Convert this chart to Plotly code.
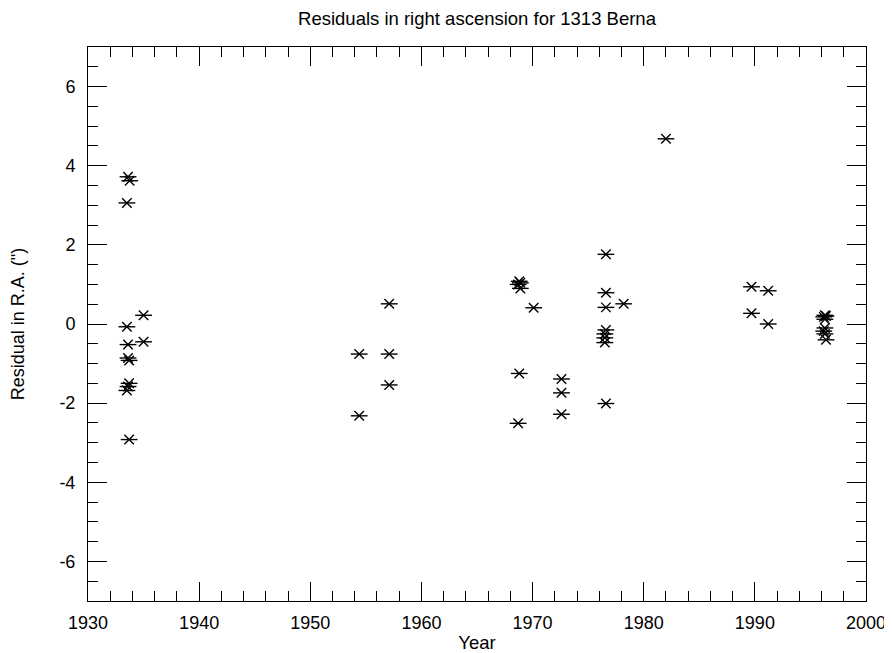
import plotly.graph_objects as go

# Observation epochs (years) and residuals in right ascension (arcsec)
years = [
    1933.6, 1933.75, 1933.5, 1933.5, 1933.6, 1933.6, 1933.7, 1933.7, 1933.6, 1933.5, 1933.7,
    1935.0, 1935.0,
    1954.4, 1954.4,
    1957.1, 1957.1, 1957.1,
    1968.8, 1968.9, 1968.7, 1968.9, 1968.8, 1968.7,
    1970.1,
    1972.6, 1972.6, 1972.6,
    1976.6, 1976.6, 1976.6, 1976.6, 1976.5, 1976.5, 1976.5, 1976.6,
    1978.2,
    1982.0,
    1989.7, 1989.7,
    1991.2, 1991.2,
    1996.3, 1996.2, 1996.4, 1996.3, 1996.3, 1996.2, 1996.3, 1996.4,
]
residuals = [
    3.72, 3.62, 3.06, -0.07, -0.52, -0.86, -0.92, -1.50, -1.58, -1.68, -2.92,
    0.22, -0.45,
    -0.76, -2.32,
    0.51, -0.76, -1.54,
    1.08, 1.04, 1.00, 0.90, -1.25, -2.51,
    0.41,
    -1.39, -1.74, -2.28,
    1.76, 0.79, 0.42, -0.15, -0.25, -0.35, -0.47, -2.01,
    0.51,
    4.68,
    0.94, 0.27,
    0.84, 0.00,
    0.22, 0.18, 0.20, 0.12, -0.10, -0.18, -0.25, -0.40,
]

x_ticks = [1930, 1940, 1950, 1960, 1970, 1980, 1990, 2000]
y_ticks = [-6, -4, -2, 0, 2, 4, 6]

FONT = "Liberation Sans, Arial, Helvetica, sans-serif"

fig = go.Figure()
# IDL-style asterisk: an X plus a horizontal bar
fig.add_trace(go.Scatter(
    x=years, y=residuals, mode="markers", showlegend=False,
    marker=dict(symbol="x-thin-open", size=9.5, color="black",
                line=dict(color="black", width=1.4)),
))
fig.add_trace(go.Scatter(
    x=years, y=residuals, mode="markers", showlegend=False,
    marker=dict(symbol="line-ew-open", size=12, color="black",
                line=dict(color="black", width=1.4)),
))

axis_common = dict(
    showgrid=False, zeroline=False, showline=True, linecolor="black", linewidth=1,
    mirror="ticks", ticks="inside", ticklen=19, tickwidth=1, tickcolor="black",
    tickfont=dict(family=FONT, size=18, color="black"),
    automargin=False,
)

# page body has an 8px default margin; figure sized to fit the 892x653 window
W, H = 884, 645
fig.update_layout(
    width=W, height=H,
    paper_bgcolor="white", plot_bgcolor="white",
    margin=dict(l=80, r=26, t=39, b=52, autoexpand=False),
    title=dict(text="Residuals in right ascension for 1313 Berna",
               x=0.5, xref="paper", xanchor="center",
               y=1 - 11 / H, yref="container", yanchor="middle", automargin=False,
               font=dict(family=FONT, size=18.5, color="black")),
    xaxis=dict(range=[1930, 2000], tickvals=x_ticks, ticktext=[str(v) for v in x_ticks],
               minor=dict(dtick=2, tick0=1930, ticklen=10, ticks="inside", tickcolor="black"),
               title=dict(text="Year", font=dict(family=FONT, size=18.5, color="black"), standoff=5),
               ticklabelstandoff=5,
               **axis_common),
    yaxis=dict(range=[-7, 7], tickvals=y_ticks, ticktext=[str(v) for v in y_ticks],
               minor=dict(dtick=0.5, tick0=0, ticklen=10, ticks="inside", tickcolor="black"),
               title=dict(text='Residual in R.A. (")', font=dict(family=FONT, size=18, color="black"), standoff=30),
               ticklabelstandoff=8,
               **axis_common),
)

fig.write_html("out.html")
